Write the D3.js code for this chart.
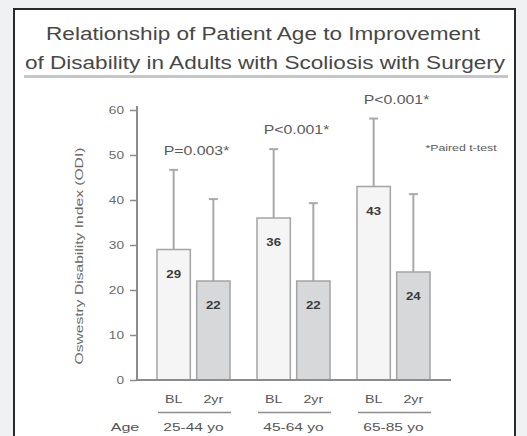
<!DOCTYPE html>
<html>
<head>
<meta charset="utf-8">
<script src="https://cdn.jsdelivr.net/npm/d3@7/dist/d3.min.js"></script>
<style>
  html, body { margin: 0; padding: 0; background: #eff1f3; }
  svg { display: block; font-family: "Liberation Sans", Arial, sans-serif; }
</style>
</head>
<body>
<svg id="chart" width="527" height="436"></svg>
<script>
// Age groups and time points
const groups = ["25-44 yo", "45-64 yo", "65-85 yo"];
const timepoints = ["BL", "2yr"];
// Mean ODI per group: baseline and 2-year follow-up
const baselineODI = [29, 36, 43];
const followupODI = [22, 22, 24];
// Upper end of the standard-deviation whiskers
const baselineUpper = [46.7, 51.3, 58.1];
const followupUpper = [40.2, 39.3, 41.3];
// Paired t-test results per group
const pValues = ["P=0.003*", "P<0.001*", "P<0.001*"];
const yTicks = [0, 10, 20, 30, 40, 50, 60];

const svg = d3.select("#chart");

// Horizontally widened lettering: move x/y into a transform and stretch along the text
function widen(sel, sx) {
  sel.each(function () {
    const t = d3.select(this);
    const x = +t.attr("x") || 0, y = +t.attr("y") || 0;
    t.attr("x", 0).attr("y", 0).attr("transform", `translate(${x},${y}) scale(${sx},1)`);
  });
  return sel;
}

// Frame and title
svg.append("rect").attr("x", 14).attr("y", 9).attr("width", 501).attr("height", 440)
  .attr("fill", "#ffffff").attr("stroke", "#2a2a2a").attr("stroke-width", 2);

const titleLines = ["Relationship of Patient Age to Improvement",
                    "of Disability in Adults with Scoliosis with Surgery"];
svg.append("g").selectAll("text").data(titleLines).join("text")
  .attr("x", (d, i) => i === 0 ? 263 : 265).attr("y", (d, i) => 40 + i * 29)
  .attr("text-anchor", "middle").attr("fill", "#474747").attr("font-size", 18.5)
  .text(d => d)
  .call(widen, 1.22);

svg.append("line").attr("x1", 24).attr("x2", 508).attr("y1", 76.5).attr("y2", 76.5)
  .attr("stroke", "#c4c6c8").attr("stroke-width", 3);

// Scales
const y = d3.scaleLinear().domain([0, 60]).range([380, 110]);
const x = d3.scaleBand().domain(groups).range([137, 450]).paddingInner(0.27).paddingOuter(0.2);
const xi = d3.scaleBand().domain(timepoints).range([0, x.bandwidth()]).paddingInner(0.16);

const rows = groups.flatMap((g, i) => [
  { group: g, tp: "BL", value: baselineODI[i], upper: baselineUpper[i] },
  { group: g, tp: "2yr", value: followupODI[i], upper: followupUpper[i] }
]);

const axisColor = "#8c8c8c";

// Y axis
const yAxis = svg.append("g").attr("transform", "translate(137,0)")
  .call(d3.axisLeft(y).tickValues(yTicks).tickSize(7).tickSizeOuter(0).tickPadding(6));
yAxis.select(".domain").attr("stroke", axisColor).attr("stroke-width", 2)
  .attr("d", `M0,${y(0)}V${y(60) - 4}`);
yAxis.selectAll(".tick line").attr("stroke", axisColor).attr("stroke-width", 1.5);
yAxis.selectAll(".tick text").attr("fill", "#6a6a6a").attr("font-size", 10.5)
  .attr("font-family", "'Liberation Sans', Arial, sans-serif")
  .call(widen, 1.3);

svg.append("text")
  .attr("transform", `translate(80,256) rotate(-90) scale(1.42,1)`)
  .attr("text-anchor", "middle").attr("dominant-baseline", "middle")
  .attr("fill", "#6a6a6a").attr("font-size", 11)
  .text("Oswestry Disability Index (ODI)");

// Error whiskers (drawn under the bars)
const bx = d => x(d.group) + xi(d.tp);
const cx = d => bx(d) + xi.bandwidth() / 2;
const whisk = svg.append("g").attr("stroke", "#a9a9a9").attr("stroke-width", 2);
whisk.selectAll("line.v").data(rows).join("line").attr("class", "v")
  .attr("x1", cx).attr("x2", cx).attr("y1", d => y(d.value)).attr("y2", d => y(d.upper));
whisk.selectAll("line.c").data(rows).join("line").attr("class", "c")
  .attr("x1", d => cx(d) - 4.5).attr("x2", d => cx(d) + 4.5)
  .attr("y1", d => y(d.upper)).attr("y2", d => y(d.upper));

// Bars
svg.append("g").selectAll("rect").data(rows).join("rect")
  .attr("x", bx).attr("width", xi.bandwidth())
  .attr("y", d => y(d.value)).attr("height", d => y(0) - y(d.value))
  .attr("fill", d => d.tp === "BL" ? "#f5f5f5" : "#d7d8da")
  .attr("stroke", "#a4a4a4").attr("stroke-width", 1.5);

// Value labels inside bars
svg.append("g").selectAll("text").data(rows).join("text")
  .attr("x", cx).attr("y", d => y(d.value) + 25)
  .attr("text-anchor", "middle").attr("dominant-baseline", "middle")
  .attr("font-weight", "bold").attr("font-size", 11.5).attr("fill", "#3a3a3a")
  .text(d => d.value)
  .call(widen, 1.15);

// X baseline
svg.append("line").attr("x1", 136).attr("x2", 451).attr("y1", y(0)).attr("y2", y(0))
  .attr("stroke", axisColor).attr("stroke-width", 2);

// P-values above each group
svg.append("g").selectAll("text").data(groups).join("text")
  .attr("x", g => x(g) + x.bandwidth() / 2 + 3)
  .attr("y", (g, i) => y(baselineUpper[i]) - 18)
  .attr("text-anchor", "middle").attr("dominant-baseline", "middle")
  .attr("font-size", 12.5).attr("fill", "#5a5a5a")
  .text((g, i) => pValues[i])
  .call(widen, 1.27);

svg.append("text").attr("x", 461).attr("y", 149)
  .attr("text-anchor", "middle").attr("dominant-baseline", "middle")
  .attr("font-size", 8.5).attr("fill", "#5a5a5a").text("*Paired t-test")
  .call(widen, 1.45);

// Time point labels, group underlines, age labels
svg.append("g").selectAll("text").data(rows).join("text")
  .attr("x", cx).attr("y", 400).attr("text-anchor", "middle").attr("dominant-baseline", "middle")
  .attr("font-size", 11).attr("fill", "#555").text(d => d.tp)
  .call(widen, 1.3);

svg.append("g").selectAll("line").data(groups).join("line")
  .attr("x1", g => x(g) + 1).attr("x2", g => x(g) + x.bandwidth() + 1)
  .attr("y1", 412.5).attr("y2", 412.5).attr("stroke", "#8c8c8c").attr("stroke-width", 1.5);

svg.append("g").selectAll("text").data(groups).join("text")
  .attr("x", g => x(g) + x.bandwidth() / 2).attr("y", 428)
  .attr("text-anchor", "middle").attr("dominant-baseline", "middle")
  .attr("font-size", 11.5).attr("fill", "#555").text(g => g)
  .call(widen, 1.35);

svg.append("text").attr("x", 125).attr("y", 428)
  .attr("text-anchor", "middle").attr("dominant-baseline", "middle")
  .attr("font-size", 11.5).attr("fill", "#555").text("Age")
  .call(widen, 1.4);
</script>
</body>
</html>
